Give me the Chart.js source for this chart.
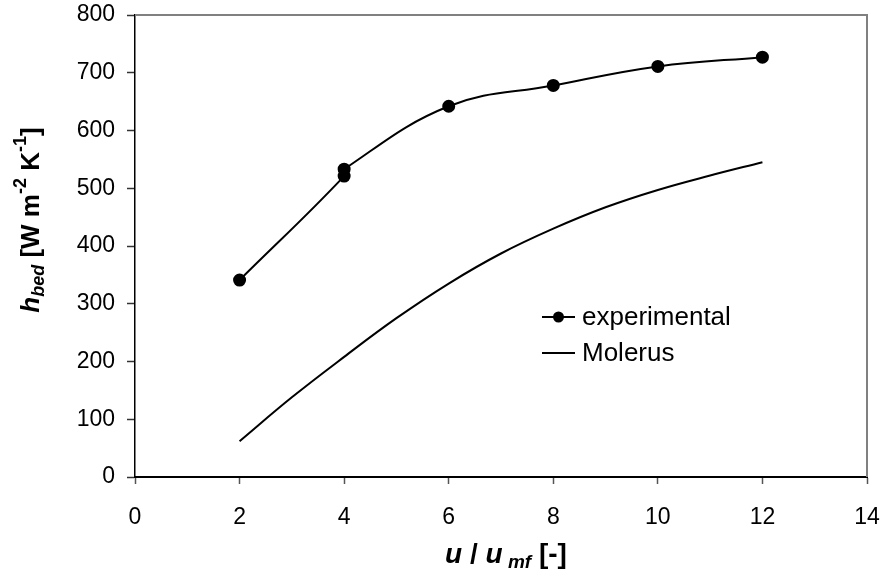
<!DOCTYPE html>
<html>
<head>
<meta charset="utf-8">
<style>
  html, body { margin: 0; padding: 0; background: #ffffff; }
  #wrap { width: 884px; height: 578px; }
</style>
</head>
<body>
<div id="wrap"><canvas id="chart" width="884" height="578"></canvas></div>
<script src="https://cdn.jsdelivr.net/npm/chart.js@4/dist/chart.umd.min.js"></script>
<script>
// Bed heat transfer coefficient vs. fluidisation number
const expX = [2, 4, 4, 6, 8, 10, 12];
const expY = [341, 521, 533, 642, 678, 711, 727];
const molX = [2, 3, 4, 5, 6, 7, 8, 9, 10, 11, 12];
const molY = [62, 138, 208, 275, 335, 387, 430, 467, 497, 522, 545];
const seriesNames = ['experimental', 'Molerus'];
const xRange = [0, 14];
const xStep = 2;
const yRange = [0, 800];
const yStep = 100;

const FONT = "'Liberation Sans', Arial, Helvetica, sans-serif";

const toPoints = (xs, ys) => xs.map((x, i) => ({ x: x, y: ys[i] }));

// Draws a run of text pieces (bold / italic / sub / sup) centred on (cx, cy)
function drawRich(ctx, parts, cx, cy, size) {
  const specs = parts.map(p => {
    const s = (p.sub || p.sup) ? Math.round(size * 0.68) : size;
    const font = (p.italic ? 'italic ' : '') + 'bold ' + s + 'px ' + FONT;
    ctx.font = font;
    return { text: p.text, font: font, w: ctx.measureText(p.text).width,
             dy: p.sub ? size * 0.28 : (p.sup ? -size * 0.42 : 0) };
  });
  const total = specs.reduce((a, s) => a + s.w, 0);
  let x = cx - total / 2;
  ctx.textBaseline = 'middle';
  ctx.textAlign = 'left';
  ctx.fillStyle = '#000';
  specs.forEach(s => {
    ctx.font = s.font;
    ctx.fillText(s.text, x, cy + s.dy);
    x += s.w;
  });
}

const yTitle = [
  { text: 'h', italic: true },
  { text: 'bed', italic: true, sub: true },
  { text: ' [W m' },
  { text: '-2', sup: true },
  { text: ' K' },
  { text: '-1', sup: true },
  { text: ']' }
];
const xTitle = [
  { text: 'u', italic: true },
  { text: ' / ' },
  { text: 'u', italic: true },
  { text: ' mf', italic: true, sub: true },
  { text: ' [-]' }
];

const decorPlugin = {
  id: 'decor',
  afterDraw(chart) {
    const ctx = chart.ctx;
    const a = chart.chartArea;
    ctx.save();
    // gray frame on top and right of the plot area
    ctx.strokeStyle = '#808080';
    ctx.lineWidth = 2;
    ctx.beginPath();
    ctx.moveTo(a.left, a.top);
    ctx.lineTo(a.right, a.top);
    ctx.lineTo(a.right, a.bottom);
    ctx.stroke();

    // axis titles
    drawRich(ctx, xTitle, (a.left + a.right) / 2 + 5, 555, 28);
    ctx.save();
    ctx.translate(32, 220);
    ctx.rotate(-Math.PI / 2);
    drawRich(ctx, yTitle, 0, 0, 26);
    ctx.restore();

    // legend
    const lx = 542, lw = 33, tx = 582;
    const rows = [317, 353];
    chart.data.datasets.forEach((ds, i) => {
      const y = rows[i];
      ctx.strokeStyle = '#000';
      ctx.lineWidth = 2;
      ctx.beginPath();
      ctx.moveTo(lx, y);
      ctx.lineTo(lx + lw, y);
      ctx.stroke();
      if (ds.pointRadius > 0) {
        ctx.fillStyle = '#000';
        ctx.beginPath();
        ctx.arc(lx + lw / 2, y, ds.pointRadius, 0, Math.PI * 2);
        ctx.fill();
      }
      ctx.fillStyle = '#000';
      ctx.font = '26px ' + FONT;
      ctx.textAlign = 'left';
      ctx.textBaseline = 'middle';
      ctx.fillText(ds.label, tx, y + 1);
    });
    ctx.restore();
  }
};

new Chart(document.getElementById('chart'), {
  type: 'scatter',
  data: {
    datasets: [
      {
        label: seriesNames[0],
        data: toPoints(expX, expY),
        showLine: true,
        borderColor: '#000',
        backgroundColor: '#000',
        borderWidth: 2,
        pointRadius: 5.5,
        pointHoverRadius: 5.5,
        tension: 0.4
      },
      {
        label: seriesNames[1],
        data: toPoints(molX, molY),
        showLine: true,
        borderColor: '#000',
        backgroundColor: '#000',
        borderWidth: 2,
        pointRadius: 0,
        pointHoverRadius: 0,
        tension: 0.4
      }
    ]
  },
  options: {
    responsive: false,
    devicePixelRatio: 1,
    animation: false,
    events: [],
    layout: { padding: { left: 0, right: 17, top: 15, bottom: 0 } },
    plugins: {
      legend: { display: false },
      tooltip: { enabled: false }
    },
    scales: {
      x: {
        type: 'linear',
        min: xRange[0],
        max: xRange[1],
        ticks: {
          stepSize: xStep,
          color: '#000',
          font: { family: FONT, size: 23 },
          padding: 20
        },
        grid: { drawOnChartArea: false, drawTicks: true, tickLength: 7, tickColor: '#555', tickWidth: 1.5 },
        border: { color: '#000', width: 2 },
        afterFit(scale) {
          scale.height = 101;
          scale.paddingLeft = 0;
          scale.paddingRight = 0;
        }
      },
      y: {
        type: 'linear',
        min: yRange[0],
        max: yRange[1],
        ticks: {
          stepSize: yStep,
          color: '#000',
          font: { family: FONT, size: 23 },
          padding: 12
        },
        grid: { drawOnChartArea: false, drawTicks: true, tickLength: 8, tickColor: '#333', tickWidth: 1.5 },
        border: { color: '#000', width: 1.5 },
        afterFit(scale) {
          scale.width = 135;
          scale.paddingTop = 0;
          scale.paddingBottom = 0;
        }
      }
    }
  },
  plugins: [decorPlugin]
});
</script>
</body>
</html>
